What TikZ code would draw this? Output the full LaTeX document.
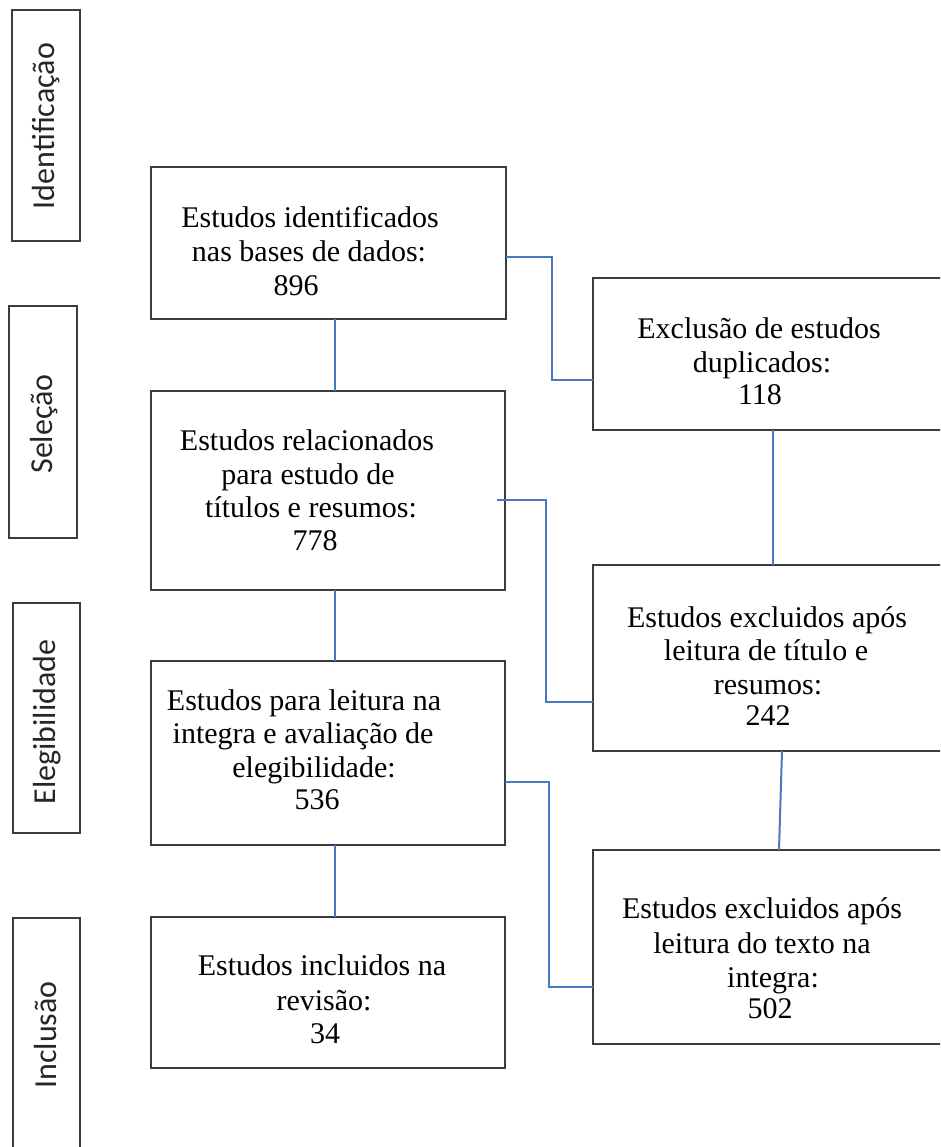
\documentclass[tikz,border=0pt]{standalone}
\usepackage{fontspec}
\setmainfont{Liberation Serif}
\newfontfamily\carlitofont{Carlito}
\definecolor{boxc}{RGB}{60,60,60}
\definecolor{linec}{RGB}{74,118,198}
\tikzset{
  box/.style={draw=boxc, line width=2.4pt, fill=white, inner sep=0pt, outer sep=0pt},
  side/.style={rotate=90, font=\carlitofont\fontsize{32}{36}\selectfont, inner sep=0pt, text=black!85},
  txt/.style={anchor=base, inner sep=0pt, font=\fontsize{30}{34}\selectfont},
  conn/.style={draw=linec, line width=2pt}
}
\begin{document}
\begin{tikzpicture}[x=1pt,y=-1pt]
\useasboundingbox (0,0) rectangle (940,1147);
\clip (0,0) rectangle (940,1147);
\fill[white] (0,0) rectangle (940,1147);

% side stage boxes
\node[box, minimum width=68pt, minimum height=231pt] (s1) at (46,125.5) {};
\node[box, minimum width=68pt, minimum height=232pt] (s2) at (43,422) {};
\node[box, minimum width=67pt, minimum height=230pt] (s3) at (46.5,718) {};
\node[box, minimum width=67pt, minimum height=232pt] (s4) at (46.5,1034) {};
\node[side] (s1t) at (46,126) {Identificação};
\node[side] (s2t) at (44,424) {Seleção};
\node[side] (s3t) at (47,722) {Elegibilidade};
\node[side] (s4t) at (46,1035) {Inclusão};

% main boxes
\node[box, minimum width=355pt, minimum height=152pt] (b1) at (328.5,243) {};
\node[box, minimum width=354pt, minimum height=199pt] (b2) at (328,490.5) {};
\node[box, minimum width=354pt, minimum height=184pt] (b3) at (328,753) {};
\node[box, minimum width=354pt, minimum height=151pt] (b4) at (328,992.5) {};
\node[box, minimum width=367pt, minimum height=152pt] (r1) at (776.5,354) {};
\node[box, minimum width=367pt, minimum height=186pt] (r2) at (776.5,658) {};
\node[box, minimum width=367pt, minimum height=194pt] (r3) at (776.5,947) {};

% texts
\node[txt] (b1a) at (310,228) {Estudos identificados};
\node[txt] (b1b) at (309,262) {nas bases de dados:};
\node[txt] (b1c) at (296,295) {896};

\node[txt] (b2a) at (307,450) {Estudos relacionados};
\node[txt] (b2b) at (308,484) {para estudo de};
\node[txt] (b2c) at (311,517) {títulos e resumos:};
\node[txt] (b2d) at (315,550) {778};

\node[txt] (b3a) at (304,710) {Estudos para leitura na};
\node[txt] (b3b) at (303,743) {integra e avaliação de};
\node[txt] (b3c) at (314,777) {elegibilidade:};
\node[txt] (b3d) at (317,809) {536};

\node[txt] (b4a) at (322,975) {Estudos incluidos na};
\node[txt] (b4b) at (324,1010) {revisão:};
\node[txt] (b4c) at (325,1043) {34};

\node[txt] (r1a) at (759,338) {Exclusão de estudos};
\node[txt] (r1b) at (762,372) {duplicados:};
\node[txt] (r1c) at (760,404) {118};

\node[txt] (r2a) at (767,627) {Estudos excluidos após};
\node[txt] (r2b) at (766,660) {leitura de título e};
\node[txt] (r2c) at (768,694) {resumos:};
\node[txt] (r2d) at (768,725) {242};

\node[txt] (r3a) at (762,918) {Estudos excluidos após};
\node[txt] (r3b) at (762,953) {leitura do texto na};
\node[txt] (r3c) at (773,987) {integra:};
\node[txt] (r3d) at (770,1018) {502};

% connectors
\coordinate (vx) at (335,0);
\coordinate (rx) at (773,0);
\draw[conn] (vx |- b1.south) -- (vx |- b2.north);
\draw[conn] (vx |- b2.south) -- (vx |- b3.north);
\draw[conn] (vx |- b3.south) -- (vx |- b4.north);
\draw[conn] ([yshift=-14pt]b1.east) -| (552,380) -- ([yshift=-26pt]r1.west);
\draw[conn] (rx |- r1.south) -- (rx |- r2.north);
\draw[conn] ([xshift=-8pt,yshift=-9.5pt]b2.east) -| (546,702) -- ([yshift=-44pt]r2.west);
\draw[conn] ([xshift=5.5pt]r2.south) -- ([xshift=2.5pt]r3.north);
\draw[conn] ([yshift=-29pt]b3.east) -| (549,987) -- ([yshift=-40pt]r3.west);
\end{tikzpicture}
\end{document}
